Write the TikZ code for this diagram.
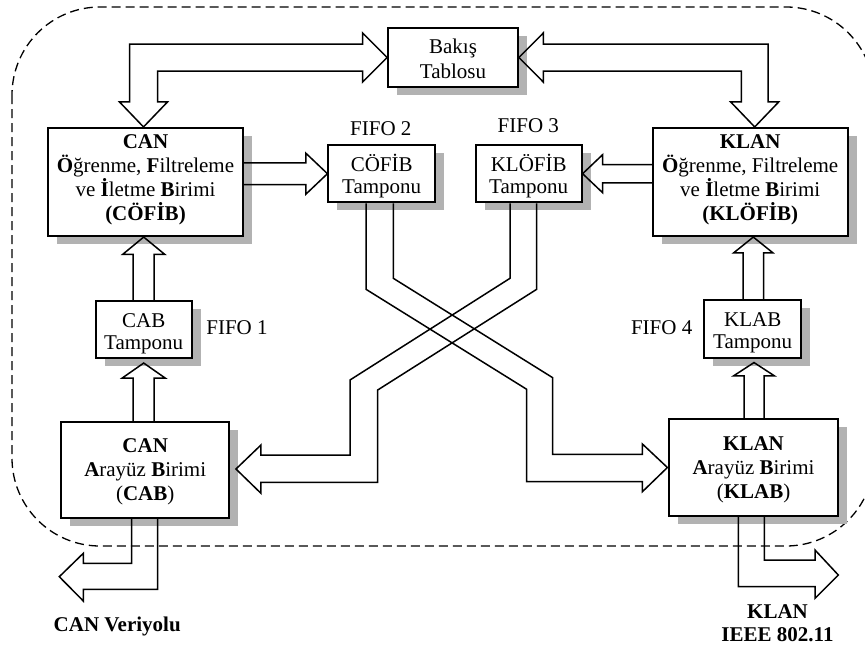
\documentclass[tikz,border=0pt]{standalone}
\usepackage{fontspec}
\setmainfont{Liberation Serif}
\usetikzlibrary{calc,shadows}
% fixed first-line height and last-line depth, so every box is set alike
\newcommand{\bxtop}{\rule{0pt}{19pt}}
\newcommand{\bxbot}{\rule[-5pt]{0pt}{5pt}}
\begin{document}
\begin{tikzpicture}[x=1pt,y=-1pt,
  box/.style={draw,line width=1.8pt,fill=white,inner sep=0pt,
    drop shadow={shadow xshift=9pt,shadow yshift=-8pt,opacity=1,fill=black!30}},
  txt/.style={font=\fontsize{21}{#1}\selectfont,inner sep=0pt,align=center},
  txt/.default=22,
  fat/.style={line width=1.5pt,line join=miter},
  lbl/.style={font=\fontsize{21}{24.5}\selectfont,inner sep=0pt,align=center},
  blbl/.style={font=\fontsize{21}{23}\selectfont\bfseries,inner sep=0pt,align=center},
  border/.style={line width=1.3pt,dash pattern=on 9pt off 5pt,rounded corners=88pt}]
\useasboundingbox (0,0) rectangle (865,648);

% dashed system boundary
\begin{scope}
  \clip (0,0) rectangle (865,648);
  \draw[border] (12,7) rectangle (874,546);
\end{scope}

% units and buffers
\node[box,minimum width=130pt,minimum height=59pt,
  label={[txt=25,yshift=-1.5pt]center:{\bxtop Bakış\\Tablosu\bxbot}}] (bakis) at (453,57.5) {};
\node[box,minimum width=195.6pt,minimum height=108.3pt,
  label={[txt=24,yshift=4.5pt]center:{\bxtop\textbf{CAN}\\\textbf{Ö}ğrenme, \textbf{F}iltreleme\\ve \textbf{İ}letme \textbf{B}irimi\\\textbf{(CÖFİB)}\bxbot}}]
  (cofib) at (145.5,182) {};
\node[box,minimum width=106.7pt,minimum height=57.3pt,
  label={[txt,yshift=-2pt]center:{\bxtop CÖFİB\\Tamponu\bxbot}}] (fifoA) at (381.7,173.7) {};
\node[box,minimum width=106pt,minimum height=57.3pt,
  label={[txt,yshift=-2pt]center:{\bxtop KLÖFİB\\Tamponu\bxbot}}] (fifoB) at (528.7,173.7) {};
\node[box,minimum width=195pt,minimum height=108.3pt,
  label={[txt=24,yshift=4.5pt]center:{\bxtop\textbf{KLAN}\\\textbf{Ö}ğrenme, Filtreleme\\ve \textbf{İ}letme \textbf{B}irimi\\\textbf{(KLÖFİB)}\bxbot}}]
  (klofib) at (750.2,182) {};
\node[box,minimum width=96pt,minimum height=56.7pt,
  label={[txt,yshift=-2pt]center:{\bxtop CAB\\Tamponu\bxbot}}] (cabt) at (143.7,329.3) {};
\node[box,minimum width=96.7pt,minimum height=57.7pt,
  label={[txt,yshift=-2pt]center:{\bxtop KLAB\\Tamponu\bxbot}}] (klabt) at (752.7,328.8) {};
\node[box,minimum width=168.3pt,minimum height=95.4pt,
  label={[txt=24,yshift=0.5pt]center:{\bxtop\textbf{CAN}\\\textbf{A}rayüz \textbf{B}irimi\\(\textbf{CAB})\bxbot}}]
  (cab) at (145.2,470) {};
\node[box,minimum width=168.4pt,minimum height=96.4pt,
  label={[txt=24,yshift=0.5pt]center:{\bxtop\textbf{KLAN}\\\textbf{A}rayüz \textbf{B}irimi\\(\textbf{KLAB})\bxbot}}]
  (klab) at (753.5,467.5) {};

% labels
\node[lbl] (f1) at (237,328) {FIFO 1};
\node[lbl] (f2) at (380.8,129) {FIFO 2};
\node[lbl] (f3) at (528.3,126) {FIFO 3};
\node[lbl] (f4) at (661.7,328) {FIFO 4};
\node[blbl] (canlbl) at (117.2,626.7) {CAN Veriyolu};
\node[blbl] (klanlbl) at (777.5,623.5) {KLAN\\IEEE 802.11};

% free ends and arrow tips
\coordinate (t1) at ($(cofib.north)+(-2,0)$);
\coordinate (t2) at (bakis.west);
\coordinate (t3) at (bakis.east);
\coordinate (t4) at ($(klofib.north)+(4.5,0)$);
\coordinate (t5) at (fifoA.west);
\coordinate (t6) at (fifoB.east);
\coordinate (t7) at (cabt.north |- cofib.south);
\coordinate (t8) at ($(cabt.south)+(0,4.5)$);
\coordinate (t9) at ($(klabt.north |- klofib.south)+(0.6,0)$);
\coordinate (t10) at ($(klabt.south)+(1.3,4)$);
\coordinate (canbus) at (59.3,576.7);
\coordinate (klanbus) at (838.3,575);

% CÖFİB <-> Bakış Tablosu
\draw[fat] (t1) -- ($(t1)+(24,-25)$) -- ($(t1)+(14,-25)$) -- ($(t1|-t2)+(14,13.5)$)
  -- ($(t2)+(-24.5,13.5)$) -- ($(t2)+(-24.5,24.5)$) -- (t2) -- ($(t2)+(-24.5,-24.5)$)
  -- ($(t2)+(-24.5,-13.5)$) -- ($(t1|-t2)+(-14,-13.5)$) -- ($(t1)+(-14,-25)$)
  -- ($(t1)+(-24,-25)$) -- cycle;

% Bakış Tablosu <-> KLÖFİB
\draw[fat] (t3) -- ($(t3)+(24.4,-24.5)$) -- ($(t3)+(24.4,-13.5)$) -- ($(t4|-t3)+(13.3,-13.5)$)
  -- ($(t4)+(13.3,-25)$) -- ($(t4)+(24,-25)$) -- (t4) -- ($(t4)+(-24,-25)$)
  -- ($(t4)+(-13.3,-25)$) -- ($(t4|-t3)+(-13.3,13.5)$) -- ($(t3)+(24.4,13.5)$)
  -- ($(t3)+(24.4,24.5)$) -- cycle;

% CÖFİB -> FIFO 2
\draw[fat] ($(cofib.east|-t5)+(0,-10.8)$) -- ($(t5)+(-21.6,-10.8)$) -- ($(t5)+(-21.6,-20.5)$)
  -- (t5) -- ($(t5)+(-21.6,20.5)$) -- ($(t5)+(-21.6,10.8)$) -- ($(cofib.east|-t5)+(0,10.8)$);

% KLÖFİB -> FIFO 3
\draw[fat] ($(klofib.west|-t6)+(0,-9.2)$) -- ($(t6)+(20,-9.2)$) -- ($(t6)+(20,-19)$)
  -- (t6) -- ($(t6)+(20,19)$) -- ($(t6)+(20,9.2)$) -- ($(klofib.west|-t6)+(0,9.2)$);

% CAB Tamponu -> CÖFİB
\draw[fat] ($(cabt.north)+(-10.5,0)$) -- ($(t7)+(-10.5,17.3)$) -- ($(t7)+(-21,17.3)$)
  -- (t7) -- ($(t7)+(21,17.3)$) -- ($(t7)+(10.5,17.3)$) -- ($(cabt.north)+(10.5,0)$);

% CAB -> CAB Tamponu
\draw[fat] ($(t8|-cab.north)+(-10.5,0)$) -- ($(t8)+(-10.5,15)$) -- ($(t8)+(-21.5,15)$)
  -- (t8) -- ($(t8)+(21.5,15)$) -- ($(t8)+(10.5,15)$) -- ($(t8|-cab.north)+(10.5,0)$);

% KLAB Tamponu -> KLÖFİB
\draw[fat] ($(t9|-klabt.north)+(-10.3,0)$) -- ($(t9)+(-10.3,15.7)$) -- ($(t9)+(-19.5,15.7)$)
  -- (t9) -- ($(t9)+(19.5,15.7)$) -- ($(t9)+(10.3,15.7)$) -- ($(t9|-klabt.north)+(10.3,0)$);

% KLAB -> KLAB Tamponu
\draw[fat] ($(t10|-klab.north)+(-10,0)$) -- ($(t10)+(-10,13.3)$) -- ($(t10)+(-20.4,13.3)$)
  -- (t10) -- ($(t10)+(20.4,13.3)$) -- ($(t10)+(10,13.3)$) -- ($(t10|-klab.north)+(10,0)$);

% CAB -> CAN Veriyolu
\draw[fat] ($(cab.south)+(-13.5,0)$) |- ($(canbus)+(24,-13.4)$) -- ($(canbus)+(24,-23.4)$)
  -- (canbus) -- ($(canbus)+(24,24.3)$) -- ($(canbus)+(24,12.6)$) -| ($(cab.south)+(12.5,0)$);

% KLAB -> KLAN (IEEE 802.11)
\draw[fat] ($(klab.south)+(10.8,0)$) |- ($(klanbus)+(-23.3,-15)$) -- ($(klanbus)+(-23.3,-25)$)
  -- (klanbus) -- ($(klanbus)+(-23.3,23.3)$) -- ($(klanbus)+(-23.3,11.7)$) -| ($(klab.south)+(-15.2,0)$);

% FIFO 2 -> KLAB (crossing)
\draw[fat] ($(fifoA.south)+(-15.7,0)$) -- (366,289.3) -- (526.7,389.3) -- (526.7,481.7)
  -- ($(klab.west)+(-26,14.2)$) -- ($(klab.west)+(-26,24.2)$) -- ($(klab.west)+(-1,0)$)
  -- ($(klab.west)+(-26,-23.5)$) -- ($(klab.west)+(-26,-13.2)$) -- (552.7,454.3)
  -- (552.7,377.7) -- (393.3,278.3) -- ($(fifoA.south)+(11.6,0)$);

% FIFO 3 -> CAB (crossing)
\draw[fat] ($(fifoB.south)+(-18.7,0)$) -- (510,278.3) -- (350,380) -- (350,455)
  -- ($(cab.east)+(30.7,-15)$) -- ($(cab.east)+(30.7,-25)$) -- ($(cab.east)+(5.7,-1)$)
  -- ($(cab.east)+(30.7,23.3)$) -- ($(cab.east)+(30.7,12.3)$) -- (377.7,482.3)
  -- (377.7,390) -- (536.7,289.3) -- ($(fifoB.south)+(8,0)$);
\end{tikzpicture}
\end{document}
